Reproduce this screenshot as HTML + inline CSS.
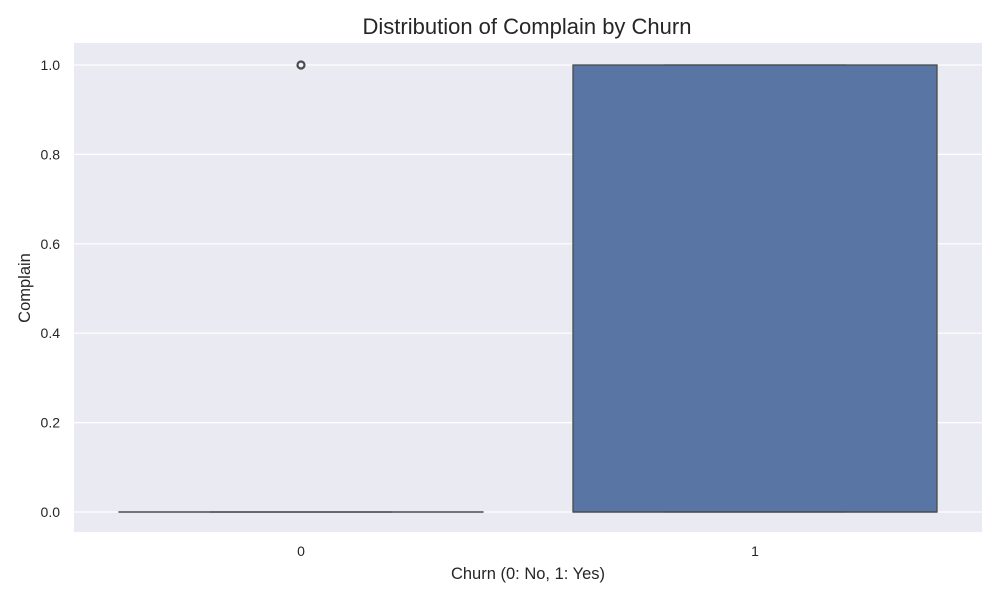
<!DOCTYPE html>
<html><head><meta charset="utf-8"><style>
body{margin:0;background:#fff;font-family:"Liberation Sans",sans-serif}
</style></head><body>
<svg width="1000" height="600" xmlns="http://www.w3.org/2000/svg" font-family="Liberation Sans, sans-serif">
<text x="527" y="34" font-size="22" text-anchor="middle" fill="#262626">Distribution of Complain by Churn</text>
<rect x="74" y="43" width="908" height="489" fill="#eaeaf2"/>
<g id="grid"></g>
<g id="marks"></g>
<text x="528" y="579" font-size="16.5" text-anchor="middle" fill="#262626">Churn (0: No, 1: Yes)</text>
<text transform="translate(30,288) rotate(-90)" font-size="16.5" text-anchor="middle" fill="#262626">Complain</text>
<script>
const categories=["0","1"];
const q1=[0,0];
const median=[0,0];
const q3=[0,1];
const whiskLo=[0,0];
const whiskHi=[0,1];
const outliers=[[1],[]];
const yTicks=[0,0.2,0.4,0.6,0.8,1.0];
const ns="http://www.w3.org/2000/svg";
const y=v=>512-v*447;
const x=i=>301+i*454;
const halfW=182;
const grid=document.getElementById('grid'),marks=document.getElementById('marks');
function mk(tag,attrs,parent){const e=document.createElementNS(ns,tag);for(const k in attrs)e.setAttribute(k,attrs[k]);parent.appendChild(e);return e;}
yTicks.forEach(t=>{
 const l=mk('line',{x1:74,x2:982,y1:y(t),y2:y(t),stroke:'#fff','stroke-width':1.2},grid);
 
 
 const tx=mk('text',{x:60,y:y(t)+5,'font-size':14,'text-anchor':'end',fill:'#262626'},grid);
 tx.textContent=t.toFixed(1);
 
 
});
categories.forEach((c,i)=>{
 const cx=x(i);
 const tx=mk('text',{x:cx,y:556,'font-size':14,'text-anchor':'middle',fill:'#262626'},grid);
 tx.textContent=c;
 
 
 const b=mk('rect',{x:cx-halfW,y:y(q3[i]),width:halfW*2,height:Math.max(0.01,y(q1[i])-y(q3[i])),fill:'#5875a4',stroke:'#4a4a4a','stroke-width':1.3},marks);
 
 
 const m=mk('line',{x1:cx-halfW,x2:cx+halfW,y1:y(median[i]),y2:y(median[i]),stroke:'#4a4a4a','stroke-width':1.3},marks);
 
 
 [whiskLo[i],whiskHi[i]].forEach(w=>{
  const cl=mk('line',{x1:cx-halfW/2,x2:cx+halfW/2,y1:y(w),y2:y(w),stroke:'#4a4a4a','stroke-width':1.3,'stroke-opacity':0.6},marks);
  
  
 });
 outliers[i].forEach(o=>{
  const p=mk('circle',{cx:cx,cy:y(o),r:3.5,fill:'none',stroke:'#4a4a4a','stroke-width':2.2},marks);
  
  
 });
});
</script>
</svg>
</body></html>
